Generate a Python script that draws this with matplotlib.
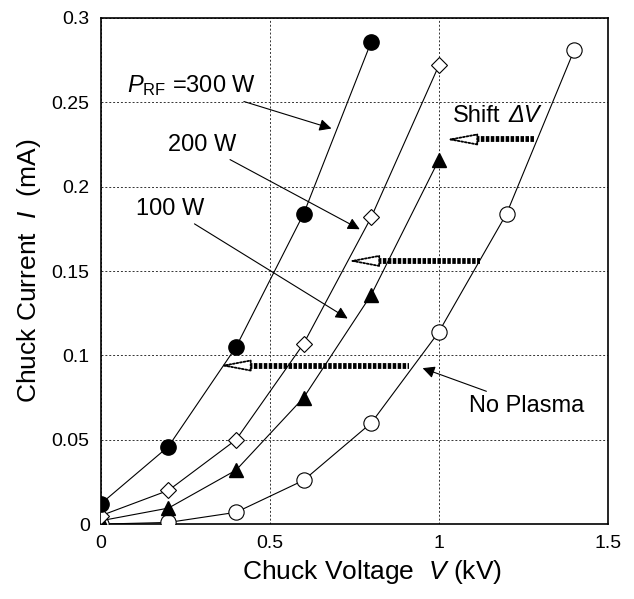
import matplotlib
matplotlib.use("Agg")
import matplotlib.pyplot as plt

plt.rcParams['font.family'] = ['Liberation Sans', 'DejaVu Sans']
plt.rcParams['mathtext.fontset'] = 'custom'
plt.rcParams['mathtext.rm'] = 'Liberation Sans'
plt.rcParams['mathtext.it'] = 'Liberation Sans:italic'

# данные
v_300 = [0, 0.2, 0.4, 0.6, 0.8]
i_300 = [0.012, 0.046, 0.105, 0.184, 0.286]
v_200 = [0, 0.2, 0.4, 0.6, 0.8, 1.0]
i_200 = [0.005, 0.020, 0.050, 0.107, 0.182, 0.272]
v_100 = [0, 0.2, 0.4, 0.6, 0.8, 1.0]
i_100 = [0.002, 0.0095, 0.032, 0.075, 0.136, 0.216]
v_np = [0, 0.2, 0.4, 0.6, 0.8, 1.0, 1.2, 1.4]
i_np = [0.0, 0.001, 0.007, 0.026, 0.060, 0.114, 0.184, 0.281]

# стрелки сдвига: начало, конец, уровень тока
shift_from = [1.28, 1.12, 0.91]
shift_to = [1.02, 0.73, 0.35]
shift_i = [0.228, 0.156, 0.094]

x_ticks = [0, 0.5, 1, 1.5]
x_labels = ["0", "0.5", "1", "1.5"]
y_ticks = [0, 0.05, 0.1, 0.15, 0.2, 0.25, 0.3]
y_labels = ["0", "0.05", "0.1", "0.15", "0.2", "0.25", "0.3"]

fig = plt.figure(figsize=(6.34, 5.99), dpi=100)
ax = fig.add_axes([0.159, 0.125, 0.800, 0.845])

ax.plot(v_np, i_np, '-o', color='black', lw=0.8, ms=11, mfc='white', mew=0.8, zorder=3)
ax.plot(v_100, i_100, '-^', color='black', lw=0.8, ms=10, mfc='black', zorder=3)
ax.plot(v_200, i_200, '-D', color='black', lw=0.8, ms=8, mfc='white', mew=0.8, zorder=3)
ax.plot(v_300, i_300, '-o', color='black', lw=0.8, ms=11, mfc='black', zorder=3)

ax.set_xlim(0, 1.5)
ax.set_ylim(0, 0.3)
ax.set_xticks(x_ticks)
ax.set_xticklabels(x_labels)
ax.set_yticks(y_ticks)
ax.set_yticklabels(y_labels)
ax.tick_params(labelsize=14, length=0, pad=8)
ax.grid(True, linestyle=(0, (2, 2)), color='#333333', lw=0.7)
for s in ax.spines.values():
    s.set_linewidth(1.2)

ax.set_xlabel(r"Chuck Voltage  $V$ (kV)", fontsize=19, x=0.535)
ax.set_ylabel(r"Chuck Current  $I$  (mA)", fontsize=19, labelpad=6)

# подписи со стрелками
ann = dict(arrowstyle='-|>', color='black', lw=0.8, mutation_scale=18)
ax.annotate(r"$P_{\rm RF}$ =300 W", xy=(0.69, 0.234), xytext=(0.46, 0.26),
            fontsize=17, ha='right', va='center', arrowprops=ann)
ax.annotate("200 W", xy=(0.773, 0.174), xytext=(0.40, 0.225),
            fontsize=17, ha='right', va='center', arrowprops=ann)
ax.annotate("100 W", xy=(0.737, 0.121), xytext=(0.305, 0.187),
            fontsize=17, ha='right', va='center', arrowprops=ann)
ax.annotate("No Plasma", xy=(0.944, 0.093), xytext=(1.09, 0.070),
            fontsize=17, ha='left', va='center', arrowprops=ann)

ax.text(1.04, 0.242, "Shift", fontsize=17, ha='left', va='center')
ax.text(1.205, 0.242, "ΔV", fontsize=17, style='italic', ha='left', va='center')

# стрелки сдвига: толстый штриховой стержень и узкая открытая головка
head = dict(arrowstyle='-|>,head_length=1.6,head_width=0.3', ec='black', fc='white',
            lw=1.3, linestyle=(0, (1, 1)), mutation_scale=12, shrinkA=0, shrinkB=0)
for x0, x1, yy in zip(shift_from, shift_to, shift_i):
    ax.plot([x1 + 0.06, x0], [yy, yy], color='black', lw=4.2,
            linestyle=(0, (0.6, 0.25)), solid_capstyle='butt', zorder=4)
    ax.annotate("", xy=(x1, yy), xytext=(x1 + 0.08, yy), arrowprops=head, zorder=4)

fig.savefig("out.png", dpi=100)
